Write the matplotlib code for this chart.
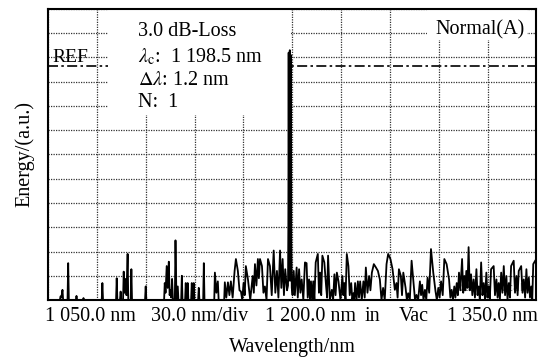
import matplotlib
matplotlib.use("Agg")
import matplotlib.pyplot as plt
from matplotlib.patches import Rectangle
import numpy as np

plt.rcParams["font.family"] = ["Liberation Serif", "DejaVu Serif"]
plt.rcParams["mathtext.fontset"] = "stix"

# OSA trace, energy in divisions (12 div full scale)
wl_left = [1050, 1057.3, 1057.7, 1058.2, 1058.9, 1059.3,
           1062.0, 1062.4, 1062.8,
           1067.1, 1067.5, 1067.9,
           1071.4, 1071.8, 1072.2,
           1083.0, 1083.4, 1083.8,
           1091.8, 1092.2, 1092.6,
           1094.2, 1094.6, 1095.0,
           1096.1, 1096.5, 1096.9, 1097.7, 1098.2, 1098.9, 1099.3,
           1100.8, 1101.2, 1101.6,
           1109.6, 1110.0, 1110.4,
           1121.3, 1121.7, 1122.2, 1122.9, 1123.5, 1124.2, 1124.7, 1125.2,
           1125.7, 1126.2, 1126.7, 1127.9, 1128.3, 1128.9, 1129.7, 1130.1,
           1131.8, 1132.2, 1132.6,
           1134.2, 1134.6, 1135.0, 1135.4, 1135.8, 1136.2,
           1137.9, 1138.3, 1138.7, 1139.1, 1139.5, 1139.9,
           1142.2, 1142.6, 1143.0,
           1145.3, 1145.7, 1146.1]
e_left = [0, 0, 0.15, 0.1, 0.42, 0,
          0, 1.52, 0,
          0, 0.17, 0,
          0, 0.08, 0,
          0, 0.7, 0,
          0, 0.9, 0,
          0, 0.35, 0,
          0, 1.17, 0.3, 0.87, 0.2, 1.9, 0,
          0, 1.27, 0,
          0, 0.56, 0,
          0, 0.7, 0.3, 1.4, 0.5, 1.58, 0.2, 0.42,
          0.1, 0.87, 0.05, 0, 2.46, 0, 0.56, 0,
          0, 1.0, 0,
          0, 0.7, 0, 0, 0.7, 0,
          0, 0.7, 0, 0, 0.7, 0,
          0, 0.5, 0,
          0, 1.52, 0]

wl_mid = [1152.1, 1152.5, 1153.4, 1154.3, 1154.8,
          1158.2, 1158.6, 1159.5, 1160.5, 1161.4, 1162.3, 1163.4, 1164.6, 1165.4, 1166.6,
          1167.6, 1168.5, 1169.3, 1170.1, 1170.8, 1171.5, 1172.8, 1174.2, 1175.7, 1176.4,
          1177.1, 1178.0, 1178.9, 1179.5, 1180.2, 1181.4, 1182.3, 1183.2, 1184.2, 1185.1,
          1186.3, 1187.4, 1188.6, 1189.6, 1190.6, 1191.5, 1192.5, 1193.3, 1194.1, 1194.9,
          1195.7, 1196.8, 1197.4]
e_mid = [0, 1.13, 0.3, 0.77, 0,
         0, 0.73, 0.1, 0.73, 0.2, 0.77, 0.1, 1.2, 1.69, 1.2,
         0.4, 0.35, 0, 0.7, 0.2, 1.4, 0.85, 0, 0.99, 0.3,
         1.48, 0.6, 1.69, 0.9, 1.69, 1.4, 0.3, 0.56, 0, 1.69,
         1.4, 0.2, 2.04, 0.3, 1.2, 0.1, 2.04, 0.5, 1.69, 0.2,
         1.27, 0.4, 0.6]

wl_peak = [1197.6, 1197.8, 1198.1, 1198.5, 1198.9, 1199.2, 1199.4, 1199.7]
e_peak = [3.0, 10.2, 0.8, 10.3, 0.8, 10.1, 2.5, 0.5]

wl_right = [1200.2, 1200.9, 1201.6, 1202.7, 1203.4, 1204.2, 1205.0, 1205.8, 1206.8, 1207.8,
            1208.8, 1209.5, 1210.3, 1210.9, 1211.5, 1212.2, 1212.9, 1213.6, 1214.4, 1215.7,
            1216.4, 1217.1, 1217.8, 1218.5, 1219.7, 1220.8, 1221.4, 1222.0, 1223.1, 1224.3,
            1225.1, 1225.9, 1226.6, 1227.4, 1228.4, 1229.6, 1230.8, 1231.4, 1232.0, 1232.7,
            1233.5, 1234.5, 1235.3, 1236.2, 1236.9, 1237.6, 1238.1, 1238.6, 1239.5, 1240.3,
            1241.0, 1241.7, 1242.7, 1243.7, 1244.5, 1245.2, 1246.2, 1247.2, 1248.0, 1248.9,
            1250.1, 1251.4, 1252.6, 1253.8, 1254.8, 1255.8, 1256.8, 1257.9, 1258.9, 1260.3,
            1261.6, 1263.0, 1264.0, 1264.7, 1265.5, 1266.7, 1267.4, 1268.2, 1269.6, 1270.4,
            1271.2, 1272.2, 1273.3, 1274.5, 1275.4, 1276.3, 1277.3, 1278.4, 1279.1, 1279.8,
            1280.6, 1281.5, 1282.3, 1283.1, 1284.1, 1285.2, 1286.6, 1288.0, 1288.8, 1289.7,
            1290.5, 1291.4, 1292.4, 1293.4, 1294.8, 1296.3, 1297.1, 1297.9, 1298.7, 1299.5,
            1300.2, 1301.0, 1301.7, 1302.4, 1303.2, 1304.3, 1305.0, 1305.7, 1306.3, 1306.9,
            1307.6, 1308.3, 1309.0, 1309.8, 1310.6, 1311.4, 1312.2, 1313.1, 1313.8, 1314.5,
            1315.2, 1316.0, 1316.8, 1317.6, 1318.4, 1319.2, 1319.9, 1320.6, 1321.3, 1322.1,
            1323.7, 1324.5, 1325.4, 1326.1, 1326.8, 1327.5, 1328.3, 1329.1, 1329.9, 1330.7,
            1331.5, 1332.2, 1333.0, 1333.7, 1334.4, 1336.0, 1336.8, 1337.7, 1338.4, 1339.1,
            1340.6, 1341.4, 1342.2, 1343.0, 1343.8, 1344.5, 1345.3, 1346.0, 1346.8, 1347.4,
            1348.0, 1349.2, 1350.0]
e_right = [0.2, 1.2, 0.2, 1.34, 0.1, 1.27, 0.3, 0.85, 0, 1.55,
           1.52, 0.1, 0.85, 0, 0.77, 0, 0.77, 0, 1.55, 1.9,
           0.3, 1.13, 0.2, 1.83, 1.55, 0.56, 0.1, 1.83, 0, 0.42,
           0, 1.06, 0.2, 1.13, 0.77, 0, 0.99, 0.2, 0.7, 0,
           1.9, 1.4, 0.2, 0.7, 0, 0.28, 0, 0.7, 0, 0.77,
           0.1, 0.77, 0, 0.77, 0.1, 1.34, 0.3, 0.99, 0.4, 1.13,
           1.48, 1.34, 1.2, 0.85, 0, 0.5, 0, 1.48, 1.9, 1.69,
           1.27, 0.42, 0.7, 0.1, 1.27, 0.99, 0.2, 1.13, 0.5, 0,
           0.28, 0, 1.62, 0.7, 0, 0.21, 0, 0.77, 0.2, 0.63,
           0, 0.42, 0, 0.92, 0.3, 2.1, 1.13, 0.35, 0, 0.5,
           0.1, 0.77, 0.2, 1.69, 1.48, 0.85, 0.1, 0.42, 0, 0.56,
           0.1, 0.7, 0.2, 1.13, 0.4, 1.69, 0.3, 0.99, 0.4, 1.2,
           0.5, 2.18, 0.4, 1.06, 0.2, 0.85, 0.1, 1.27, 0.2, 0.56,
           0, 1.55, 0.2, 0.7, 0, 1.13, 0.1, 0.56, 0, 1.27,
           1.4, 0.2, 0.85, 0.1, 0.7, 0, 1.13, 0.3, 1.4, 0.2,
           0.99, 0, 0.7, 0.1, 1.4, 1.62, 0.3, 0.99, 0.2, 1.2,
           1.4, 0.3, 0.85, 0.1, 1.27, 0.3, 0.92, 0.1, 0.56, 0,
           1.48, 1.62, 1.7]

ref_level = 9.65
info_lines = ["3.0 dB-Loss", r"$\lambda_{\rm c}$:  1 198.5 nm", r"$\Delta\lambda$: 1.2 nm", "N:  1"]
bottom_labels = ["1 050.0 nm", "30.0 nm/div", "1 200.0 nm", "in", "Vac", "1 350.0 nm"]

wl = np.concatenate([wl_left, wl_mid, wl_peak, wl_right])
energy = np.concatenate([e_left, e_mid, e_peak, e_right])

fig = plt.figure(figsize=(5.46, 3.59), dpi=100)
ax = fig.add_axes([0.0879, 0.1643, 0.8947, 0.8107])
ax.set_xlim(1050, 1350)
ax.set_ylim(0, 12)
ax.set_xticks(np.arange(1050, 1351, 30))
ax.set_yticks(np.arange(0, 13, 1))
ax.tick_params(length=0, labelbottom=False, labelleft=False)
ax.set_axisbelow(True)
ax.grid(True, linestyle=(0, (1, 1)), color="#333333", linewidth=0.9)
for s in ax.spines.values():
    s.set_linewidth(1.5)

# REF level line
ax.axhline(ref_level, color="black", linestyle=(0, (6, 2, 1.5, 2)), linewidth=1.2, zorder=1)
ax.text(0.01, ref_level - 0.02, "REF", transform=ax.get_yaxis_transform(),
        fontsize=14, ha="left", va="bottom")

# white boxes behind annotations
ax.add_patch(Rectangle((0.123, 0.636), 0.372, 0.364, transform=ax.transAxes,
                       facecolor="white", edgecolor="none", zorder=1.5))
ax.add_patch(Rectangle((0.776, 0.893), 0.204, 0.107, transform=ax.transAxes,
                       facecolor="white", edgecolor="none", zorder=1.5))

ax.plot(wl, energy, color="black", linewidth=1.3, zorder=3)

for txt, yy in zip(info_lines, [0.907, 0.818, 0.739, 0.663]):
    ax.text(0.184, yy, txt, transform=ax.transAxes, fontsize=14.5,
            ha="left", va="baseline", zorder=4)
ax.text(0.976, 0.911, "Normal(A)", transform=ax.transAxes, fontsize=14.5,
        ha="right", va="baseline", zorder=4)
ax.text(0.833, 0.041, "Res      Wcal", transform=ax.transAxes, fontsize=8,
        family="DejaVu Sans", color="#777777", ha="left", va="center", zorder=2)

# scale annotations below the axis
xs = [-0.007, 0.311, 0.538, 0.665, 0.749, 1.003]
has = ["left", "center", "center", "center", "center", "right"]
for txt, xx, ha in zip(bottom_labels, xs, has):
    ax.text(xx, -0.055, txt, transform=ax.transAxes, fontsize=14.5, ha=ha, va="center")

ax.set_xlabel("Wavelength/nm", fontsize=14.5, labelpad=27)
ax.set_ylabel("Energy/(a.u.)", fontsize=14.5, labelpad=10)

fig.savefig("out.png")
